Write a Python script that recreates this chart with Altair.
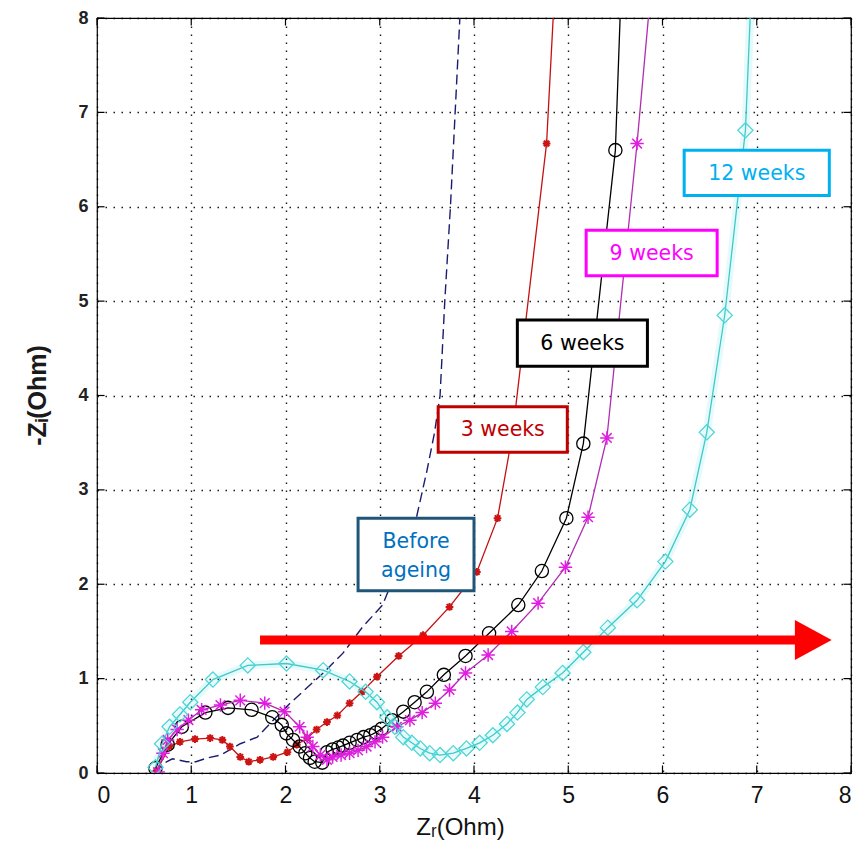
import altair as alt
import pandas as pd

# ---------------- data ----------------
series_names = ["Before ageing", "3 weeks", "6 weeks", "9 weeks", "12 weeks"]

before_x = [0.62, 0.70, 0.80, 0.95, 1.05, 1.17, 1.31, 1.52, 1.70, 1.87, 2.05, 2.40, 2.61, 2.82,
            3.03, 3.20, 3.39, 3.50, 3.58, 3.64, 3.69, 3.75, 3.80, 3.85]
before_y = [0.00, 0.10, 0.15, 0.12, 0.12, 0.16, 0.19, 0.31, 0.38, 0.56, 0.74, 1.06, 1.27, 1.55,
            1.78, 2.20, 2.71, 3.20, 3.60, 4.00, 5.00, 6.00, 7.00, 8.00]

w3_x = [0.63, 0.77, 0.88, 1.04, 1.20, 1.33, 1.41, 1.52, 1.61, 1.73, 1.87, 2.02, 2.12, 2.23,
        2.33, 2.44, 2.55, 2.68, 2.81, 2.97, 3.20, 3.46, 3.74, 4.03, 4.25, 4.41, 4.77, 4.84]
w3_y = [0.02, 0.28, 0.33, 0.36, 0.37, 0.35, 0.28, 0.17, 0.12, 0.14, 0.17, 0.22, 0.30, 0.37,
        0.46, 0.54, 0.61, 0.74, 0.86, 1.02, 1.24, 1.46, 1.76, 2.13, 2.70, 3.60, 6.67, 8.00]

w6_x = [0.62, 0.75, 0.90, 1.15, 1.39, 1.64, 1.86, 1.96, 2.01, 2.08, 2.15, 2.21, 2.26, 2.31,
        2.39, 2.44, 2.50, 2.56, 2.61, 2.68, 2.76, 2.83, 2.90, 2.96, 3.02, 3.13, 3.25, 3.37,
        3.50, 3.68, 3.91, 4.16, 4.47, 4.72, 4.98, 5.16, 5.50, 5.55]
w6_y = [0.05, 0.30, 0.49, 0.64, 0.69, 0.67, 0.59, 0.51, 0.42, 0.35, 0.28, 0.21, 0.16, 0.12,
        0.11, 0.22, 0.25, 0.27, 0.29, 0.32, 0.35, 0.38, 0.40, 0.43, 0.47, 0.56, 0.65, 0.75,
        0.86, 1.04, 1.24, 1.48, 1.78, 2.14, 2.70, 3.49, 6.60, 8.00]

w9_x = [0.65, 0.70, 0.75, 0.85, 0.97, 1.11, 1.31, 1.52, 1.78, 1.99, 2.15, 2.23, 2.29, 2.37,
        2.44, 2.50, 2.59, 2.68, 2.77, 2.86, 2.95, 3.03, 3.18, 3.32, 3.45, 3.59, 3.74, 3.91,
        4.15, 4.40, 4.68, 4.97, 5.21, 5.41, 5.73, 5.85]
w9_y = [0.01, 0.21, 0.35, 0.46, 0.56, 0.67, 0.72, 0.77, 0.74, 0.65, 0.49, 0.38, 0.28, 0.19,
        0.14, 0.17, 0.19, 0.21, 0.24, 0.28, 0.33, 0.38, 0.49, 0.56, 0.64, 0.74, 0.88, 1.06,
        1.25, 1.50, 1.80, 2.18, 2.71, 3.55, 6.67, 8.00]

w12_x = [0.62, 0.69, 0.77, 0.88, 0.99, 1.23, 1.60, 2.01, 2.40, 2.68, 2.85, 2.97, 3.08, 3.16,
         3.25, 3.34, 3.43, 3.53, 3.64, 3.78, 3.92, 4.06, 4.20, 4.35, 4.46, 4.56, 4.73, 4.94,
         5.16, 5.42, 5.73, 6.03, 6.29, 6.47, 6.66, 6.88, 6.93]
w12_y = [0.06, 0.31, 0.49, 0.62, 0.75, 0.99, 1.14, 1.16, 1.09, 0.97, 0.86, 0.75, 0.59, 0.49,
         0.38, 0.32, 0.26, 0.21, 0.19, 0.21, 0.26, 0.32, 0.40, 0.52, 0.64, 0.78, 0.91, 1.06,
         1.28, 1.54, 1.83, 2.24, 2.79, 3.61, 4.85, 6.81, 8.00]

line_colors = ["#1c1c6e", "#c41010", "#000000", "#b02cb0", "#3fc9c9"]
marker_colors = ["#1c1c6e", "#cc1414", "#000000", "#e01ee0", "#4fd6d6"]

ticks = [0, 1, 2, 3, 4, 5, 6, 7, 8]

# annotation boxes
box_labels = ["Before", "3 weeks", "6 weeks", "9 weeks", "12 weeks"]
box_x1 = [2.77, 3.62, 4.46, 5.19, 6.23]
box_x2 = [4.00, 4.99, 5.84, 6.58, 7.77]
box_y1 = [1.93, 3.40, 4.31, 5.27, 6.12]
box_y2 = [2.70, 3.88, 4.80, 5.75, 6.60]
box_border = ["#1f5678", "#c00000", "#000000", "#ff00ff", "#00b0f0"]
box_text = ["#0070c0", "#c00000", "#000000", "#ff00ff", "#00b0f0"]
second_line = "ageing"

arrow_x = [1.73, 7.45]
arrow_y = 1.41
arrow_tip_x = 7.60

# ---------------- build tables ----------------
all_x = [before_x, w3_x, w6_x, w9_x, w12_x]
all_y = [before_y, w3_y, w6_y, w9_y, w12_y]
frames = {}
for name, xv, yv in zip(series_names, all_x, all_y):
    n = len(xv)
    frames[name] = pd.DataFrame({"x": xv, "y": yv, "order": list(range(n)),
                                 "mk": [0 if i == n - 1 else 1 for i in range(n)]})

boxes = pd.DataFrame({"label": box_labels, "x1": box_x1, "x2": box_x2,
                      "y1": box_y1, "y2": box_y2,
                      "xc": [(a + b) / 2 for a, b in zip(box_x1, box_x2)],
                      "yc": [(a + b) / 2 for a, b in zip(box_y1, box_y2)],
                      "border": box_border, "tcol": box_text})

W, H = 754, 755
xs = alt.Scale(domain=[0, 8], nice=False, zero=False)
ys = alt.Scale(domain=[0, 8], nice=False, zero=False)

X = alt.X("x:Q", scale=xs, axis=alt.Axis(
    values=ticks, format="d", title="Zᵣ(Ohm)", grid=True, gridColor="#000000", gridDash=[1.5, 6.5],
    gridWidth=1.4, gridOpacity=0.9, domain=False, ticks=False, labelFont="Liberation Sans",
    labelFontSize=23, labelColor="#111111", labelPadding=11, labelBaseline="top",
    titleFont="Liberation Sans", titleFontSize=24, titleFontWeight="normal", titleColor="#111111",
    titleX=W / 2 - 14, titleY=54, titleBaseline="middle", titleAlign="center"))
Y = alt.Y("y:Q", scale=ys, axis=alt.Axis(
    values=ticks, format="d", title="-Zᵢ(Ohm)", grid=True, gridColor="#000000", gridDash=[1.5, 6.5],
    gridWidth=1.4, gridOpacity=0.9, domain=False, ticks=False, labelFont="Liberation Sans",
    labelFontSize=18, labelFontWeight="bold", labelColor="#222222", labelPadding=9,
    titleFont="Liberation Sans", titleFontSize=25, titleFontWeight="bold", titleColor="#1a1a1a",
    titleX=-60, titleY=377, titleBaseline="middle", titleAngle=270, titleAlign="center"))

asterisk = "M-1,0L1,0M0,-1L0,1M-0.72,-0.72L0.72,0.72M-0.72,0.72L0.72,-0.72"
marker_shape = {"3 weeks": asterisk, "6 weeks": "circle", "9 weeks": asterisk, "12 weeks": "diamond"}
marker_size = {"3 weeks": 60, "6 weeks": 175, "9 weeks": 180, "12 weeks": 230}
marker_width = {"3 weeks": 2.0, "6 weeks": 1.3, "9 weeks": 1.5, "12 weeks": 1.3}

layers = []
# cyan glow
layers.append(alt.Chart(frames["12 weeks"]).mark_line(
    strokeWidth=8, opacity=0.16, clip=True, color="#5fe0e0").encode(x=X, y=Y, order="order:Q"))

for name, lc, mc in zip(series_names, line_colors, marker_colors):
    d = frames[name]
    if name == "Before ageing":
        layers.append(alt.Chart(d).mark_line(
            clip=True, strokeWidth=1.4, color=lc, strokeDash=[10, 5]).encode(x=X, y=Y, order="order:Q"))
        continue
    layers.append(alt.Chart(d).mark_line(
        clip=True, strokeWidth=1.3, color=lc).encode(x=X, y=Y, order="order:Q"))
    layers.append(alt.Chart(d).transform_filter(alt.datum.mk == 1).mark_point(
        filled=False, shape=marker_shape[name], size=marker_size[name],
        strokeWidth=marker_width[name], color=mc, opacity=1, clip=True).encode(x=X, y=Y))

tick_df = pd.DataFrame({"t": ticks})
tk = 0.08
for spec in [("x", 0, tk), ("x", 8, 8 - tk), ("y", 0, tk), ("y", 8, 8 - tk)]:
    ax, a, b = spec
    if ax == "x":
        enc = dict(x=alt.X("t:Q", scale=xs), y=alt.datum(a), y2=alt.datum(b))
    else:
        enc = dict(y=alt.Y("t:Q", scale=ys), x=alt.datum(a), x2=alt.datum(b))
    layers.append(alt.Chart(tick_df).mark_rule(color="#000", strokeWidth=1.2).encode(**enc))

arrow_df = pd.DataFrame({"x": [arrow_x[0]], "x2": [arrow_x[1]], "y": [arrow_y], "tip": [arrow_tip_x]})
layers.append(alt.Chart(arrow_df).mark_rule(color="#ff0000", strokeWidth=9).encode(
    x=alt.X("x:Q", scale=xs), x2="x2:Q", y=alt.Y("y:Q", scale=ys)))
layers.append(alt.Chart(arrow_df).mark_point(
    shape="M-0.92,-1L0.92,0L-0.92,1Z", filled=True, color="#ff0000", opacity=1, size=1600
).encode(x=alt.X("tip:Q", scale=xs), y=alt.Y("y:Q", scale=ys)))

layers.append(alt.Chart(boxes).mark_rect(fill="white", strokeWidth=3).encode(
    x=alt.X("x1:Q", scale=xs), x2="x2:Q", y=alt.Y("y1:Q", scale=ys), y2="y2:Q",
    stroke=alt.Stroke("border:N", scale=None)))
single = boxes.iloc[1:]
first = boxes.iloc[:1]
layers.append(alt.Chart(single).mark_text(
    font="DejaVu Sans", fontSize=20.5, baseline="middle", align="center", dy=1
).encode(x=alt.X("xc:Q", scale=xs), y=alt.Y("yc:Q", scale=ys), text="label:N",
         color=alt.Color("tcol:N", scale=None)))
layers.append(alt.Chart(first).mark_text(
    font="DejaVu Sans", fontSize=20.5, baseline="middle", align="center", dy=-13
).encode(x=alt.X("xc:Q", scale=xs), y=alt.Y("yc:Q", scale=ys), text="label:N",
         color=alt.Color("tcol:N", scale=None)))
layers.append(alt.Chart(first).mark_text(
    font="DejaVu Sans", fontSize=20.5, baseline="middle", align="center", dy=16, text=second_line
).encode(x=alt.X("xc:Q", scale=xs), y=alt.Y("yc:Q", scale=ys),
         color=alt.Color("tcol:N", scale=None)))

chart = alt.layer(*layers).properties(
    width=W, height=H,
    autosize=alt.AutoSizeParams(type="none"),
    padding={"left": 89, "top": 10, "right": 6, "bottom": 70},
    background="white",
).configure_view(stroke="#000000", strokeWidth=1.2)

chart.save("out.html", embed_options={"renderer": "svg", "actions": False})
